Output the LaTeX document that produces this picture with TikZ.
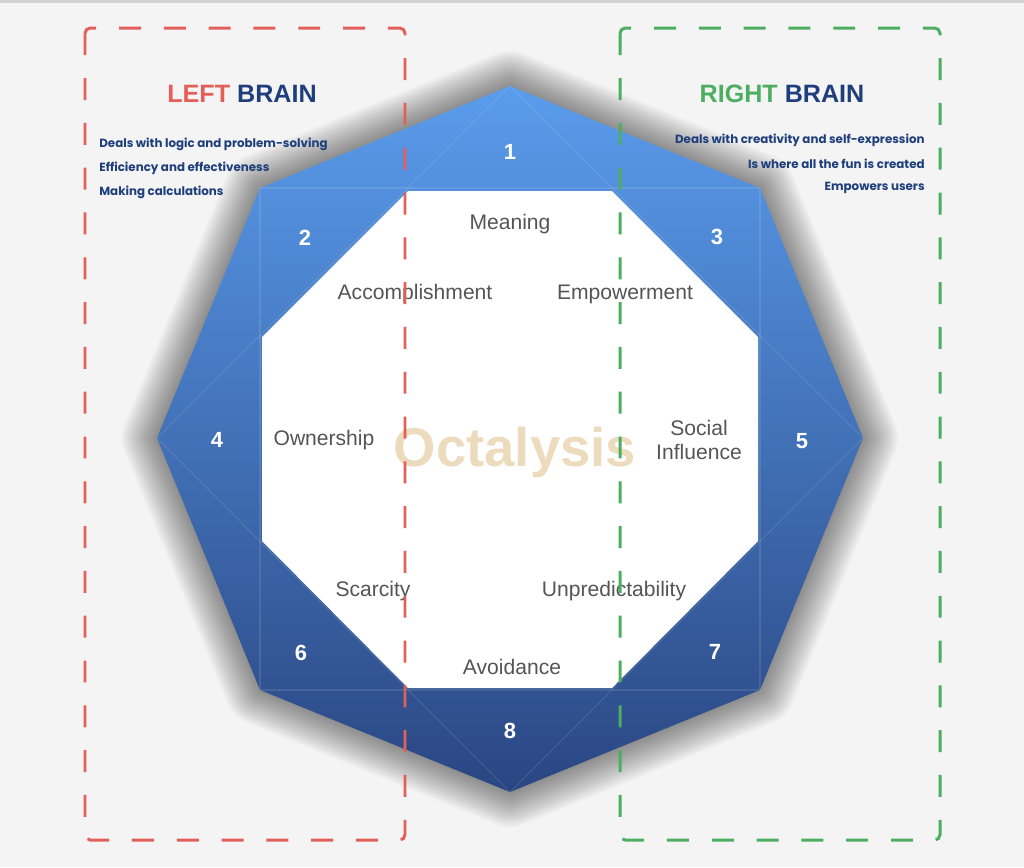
\documentclass[tikz,border=0pt]{standalone}
\usepackage{fontspec}
\setmainfont{Liberation Sans}
\newfontfamily\notefont{Poppins}

\definecolor{paper}{HTML}{F4F4F4}
\definecolor{topblue}{HTML}{5A9CEC}
\definecolor{lowblue}{HTML}{2A4682}
\definecolor{navy}{HTML}{1F3F7C}
\definecolor{leftred}{HTML}{E3605A}
\definecolor{rightgreen}{HTML}{4DAE62}
\definecolor{drivegray}{HTML}{555555}
\definecolor{tan}{HTML}{E7CFA8}

\tikzset{
  num/.style={text=white, inner sep=0pt, font=\bfseries\fontsize{12.5}{14}\selectfont},
  drive/.style={text=drivegray, inner sep=0pt, align=center, font=\fontsize{12}{14}\selectfont},
  note/.style={text=navy, inner sep=0pt, font=\notefont\bfseries\fontsize{6.75}{9}\selectfont},
  title/.style={inner sep=0pt, font=\bfseries\fontsize{14.3}{16}\selectfont},
  brainbox/.style={line width=1.7pt, dash pattern=on 12.5pt off 13pt, rounded corners=3pt},
  facet/.style={white, opacity=0.1, line width=0.6pt},
}

\begin{document}
\begin{tikzpicture}[x=0.02cm, y=-0.02cm]
  \fill[paper] (0,0) rectangle (1024,867);
  \useasboundingbox (0,0) rectangle (1024,867);
  \fill[black!18] (0,0) rectangle (1024,3);

  % outer octagon
  \coordinate (T) at (510,86);
  \coordinate (UR) at (760,188);
  \coordinate (R) at (863,438);
  \coordinate (LR) at (760,690);
  \coordinate (B) at (510,792);
  \coordinate (LL) at (260,690);
  \coordinate (L) at (157,438);
  \coordinate (UL) at (260,188);

  % soft shadow
  \foreach \w in {2,4,...,40}
    \draw[black, opacity=0.025, line width=\w pt, line join=round, yshift=-2pt]
      (T) -- (UR) -- (R) -- (LR) -- (B) -- (LL) -- (L) -- (UL) -- cycle;

  \path[top color=topblue, bottom color=lowblue]
    (T) -- (UR) -- (R) -- (LR) -- (B) -- (LL) -- (L) -- (UL) -- cycle;

  \draw[facet] (UL) -- (UR) -- (LR) -- (LL) -- cycle;
  \draw[facet] (T) -- (R) -- (B) -- (L) -- cycle;

  % inner octagon
  \fill[white] (408,191) -- (612,191) -- (758,337) -- (758,541)
    -- (612,688) -- (408,688) -- (262,541) -- (262,337) -- cycle;

  \node[text=tan, opacity=0.75, font=\bfseries\fontsize{31}{34}\selectfont] (core) at (515,452) {Octalysis};

  \node[num] (n1) at (510,152) {1};
  \node[num] (n2) at (305,238) {2};
  \node[num] (n3) at (717,237) {3};
  \node[num] (n4) at (217,440) {4};
  \node[num] (n5) at (802,441) {5};
  \node[num] (n6) at (301,653) {6};
  \node[num] (n7) at (715,652) {7};
  \node[num] (n8) at (510,731) {8};

  \node[drive] (meaning) at (510,224) {Meaning};
  \node[drive] (accomplishment) at (415,294) {Accomplishment};
  \node[drive] (empowerment) at (625,294) {Empowerment};
  \node[drive] (ownership) at (324,440) {Ownership};
  \node[drive] (social) at (699,440) {Social\\Influence};
  \node[drive] (scarcity) at (373,591) {Scarcity};
  \node[drive] (unpredictability) at (614,591) {Unpredictability};
  \node[drive] (avoidance) at (512,667) {Avoidance};

  % left brain
  \node[title] (lefttitle) at (242,94) {\textcolor{leftred}{LEFT} \textcolor{navy}{BRAIN}};
  \node[note, anchor=west] (left1) at (99,144) {Deals with logic and problem-solving};
  \node[note, anchor=west] (left2) at (99,168) {Efficiency and effectiveness};
  \node[note, anchor=west] (left3) at (99,192) {Making calculations};

  % right brain
  \node[title] (righttitle) at (782,94) {\textcolor{rightgreen}{RIGHT} \textcolor{navy}{BRAIN}};
  \node[note, anchor=east] (right1) at (925,140) {Deals with creativity and self-expression};
  \node[note, anchor=east] (right2) at (925,164) {Is where all the fun is created};
  \node[note, anchor=east] (right3) at (925,188) {Empowers users};

  \draw[brainbox, leftred] (85,28) rectangle (405,840);
  \draw[brainbox, rightgreen] (620,28) rectangle (940,840);
\end{tikzpicture}
\end{document}
